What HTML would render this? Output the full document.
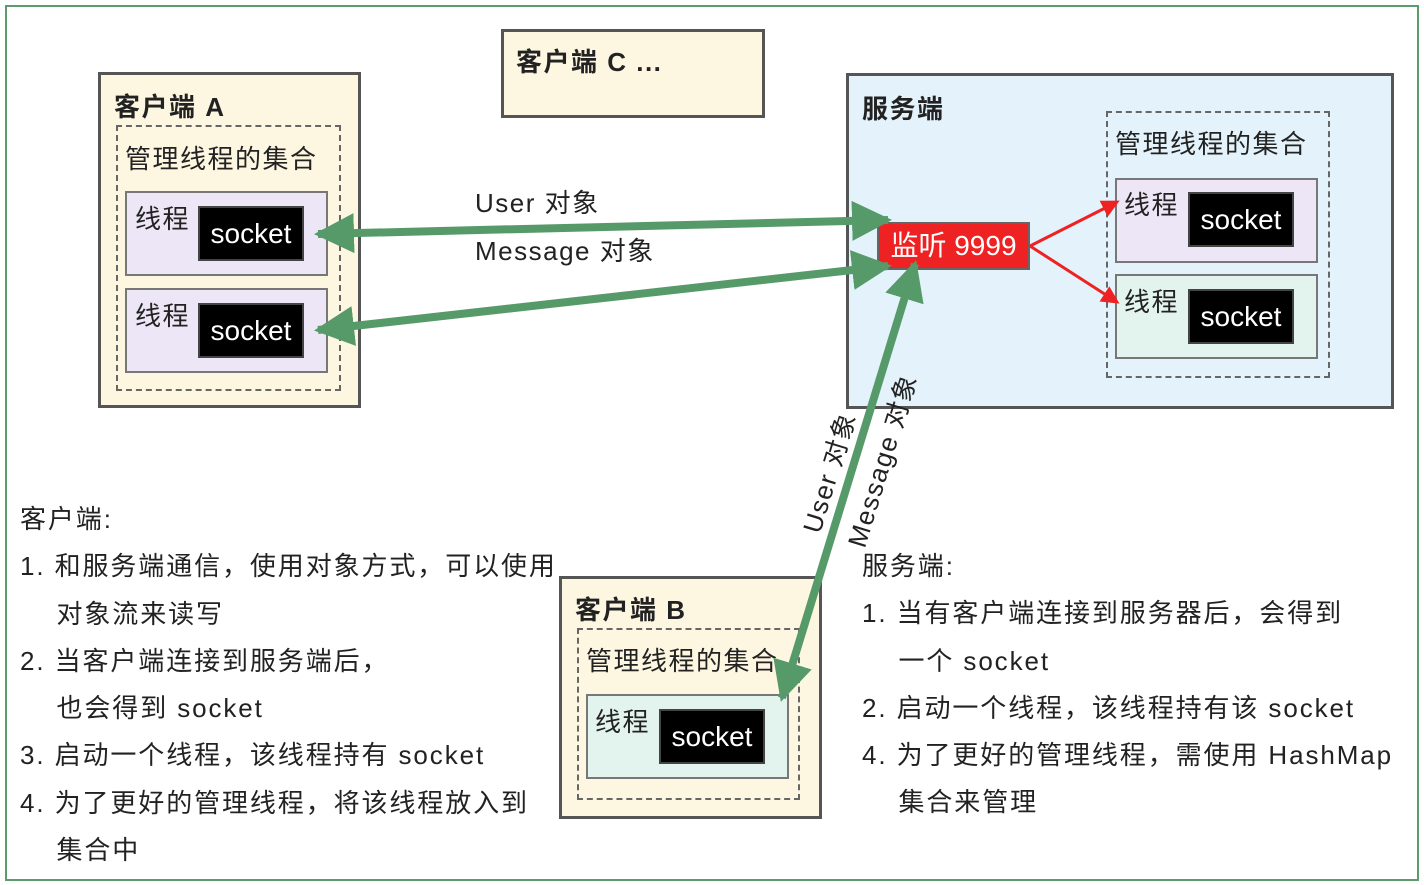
<!DOCTYPE html>
<html><head><meta charset="utf-8"><style>
body{margin:0;width:1424px;height:885px;background:#fff;position:relative;overflow:hidden;font-family:"Liberation Sans","Noto Sans CJK SC",sans-serif;color:#222}
.a{position:absolute;box-sizing:border-box}
.box{border:3px solid #555;background:#fdf6e1}
.dash{border:2px dashed #666}
.t{position:absolute;white-space:nowrap;font-size:26px;letter-spacing:1.5px}
.b{font-weight:bold}
.sock{position:absolute;background:#000;color:#fff;font-size:28px;text-align:center;box-sizing:border-box;border:2px solid #444}
.thr{border:2px solid #777;background:#ede6f6}
.thr2{border:2px solid #777;background:#e3f4ef}
</style></head><body>
<div class="a" style="left:5px;top:5px;width:1414px;height:876px;border:2px solid #5d9a6c"></div>

<div class="a box" style="left:501px;top:29px;width:264px;height:89px"></div>
<div class="t b" style="left:516px;top:42px">客户端 C ...</div>

<div class="a box" style="left:98px;top:72px;width:263px;height:336px"></div>
<div class="t b" style="left:114px;top:87px">客户端 A</div>
<div class="a dash" style="left:116px;top:125px;width:225px;height:266px"></div>
<div class="t" style="left:125px;top:139px">管理线程的集合</div>
<div class="a thr" style="left:125px;top:191px;width:203px;height:85px"></div>
<div class="t" style="left:135px;top:199px">线程</div>
<div class="sock" style="left:198px;top:206px;width:106px;height:55px;line-height:52px">socket</div>
<div class="a thr" style="left:125px;top:288px;width:203px;height:85px"></div>
<div class="t" style="left:135px;top:296px">线程</div>
<div class="sock" style="left:198px;top:303px;width:106px;height:55px;line-height:52px">socket</div>

<div class="a" style="left:846px;top:73px;width:548px;height:336px;border:3px solid #555;background:#e3f2fb"></div>
<div class="t b" style="left:862px;top:89px">服务端</div>
<div class="a dash" style="left:1106px;top:111px;width:224px;height:267px"></div>
<div class="t" style="left:1115px;top:124px">管理线程的集合</div>
<div class="a thr" style="left:1115px;top:178px;width:203px;height:85px"></div>
<div class="t" style="left:1124px;top:185px">线程</div>
<div class="sock" style="left:1188px;top:192px;width:106px;height:55px;line-height:52px">socket</div>
<div class="a thr2" style="left:1115px;top:274px;width:203px;height:85px"></div>
<div class="t" style="left:1124px;top:282px">线程</div>
<div class="sock" style="left:1188px;top:289px;width:106px;height:55px;line-height:52px">socket</div>
<div class="a" style="left:877px;top:222px;width:153px;height:48px;background:#ee2222;border:2px solid #666;color:#fff;font-size:28px;text-align:center;line-height:44px">监听 9999</div>

<div class="a box" style="left:559px;top:576px;width:263px;height:243px"></div>
<div class="t b" style="left:575px;top:590px">客户端 B</div>
<div class="a dash" style="left:577px;top:628px;width:223px;height:172px"></div>
<div class="t" style="left:586px;top:641px">管理线程的集合</div>
<div class="a thr2" style="left:586px;top:694px;width:203px;height:85px"></div>
<div class="t" style="left:595px;top:702px">线程</div>
<div class="sock" style="left:659px;top:709px;width:106px;height:55px;line-height:52px">socket</div>

<svg class="a" style="left:0;top:0" width="1424" height="885">
<defs>
<marker id="g" markerWidth="5" markerHeight="5" refX="4.5" refY="2.5" orient="auto-start-reverse" markerUnits="strokeWidth"><path d="M0,0 L5,2.5 L0,5 z" fill="#579a6a"/></marker>
<marker id="r" markerWidth="6" markerHeight="6" refX="5" refY="3" orient="auto" markerUnits="strokeWidth"><path d="M0,0 L6,3 L0,6 z" fill="#ee2222"/></marker>
</defs>
<g stroke="#579a6a" stroke-width="8" fill="none">
<line x1="318" y1="234" x2="888" y2="220" marker-start="url(#g)" marker-end="url(#g)"/>
<line x1="318" y1="330" x2="888" y2="266" marker-start="url(#g)" marker-end="url(#g)"/>
<line x1="915" y1="264" x2="782" y2="698" marker-start="url(#g)" marker-end="url(#g)"/>
</g>
<g stroke="#ee2222" stroke-width="3">
<line x1="1030" y1="246" x2="1117" y2="202" marker-end="url(#r)"/>
<line x1="1030" y1="246" x2="1117" y2="302" marker-end="url(#r)"/>
</g>
</svg>

<div class="t" style="left:475px;top:183px">User 对象</div>
<div class="t" style="left:475px;top:231px">Message 对象</div>
<div class="t" style="left:828px;top:472px;transform:translate(-50%,-50%) rotate(-73deg)">User 对象</div>
<div class="t" style="left:881px;top:460px;transform:translate(-50%,-50%) rotate(-73deg)">Message 对象</div>

<div class="t" style="left:20px;top:496px;line-height:47.3px;letter-spacing:1.9px">客户端:<br>1. 和服务端通信，使用对象方式，可以使用<br>&nbsp;&nbsp;&nbsp;&nbsp;对象流来读写<br>2. 当客户端连接到服务端后，<br>&nbsp;&nbsp;&nbsp;&nbsp;也会得到 socket<br>3. 启动一个线程，该线程持有 socket<br>4. 为了更好的管理线程，将该线程放入到<br>&nbsp;&nbsp;&nbsp;&nbsp;集合中</div>
<div class="t" style="left:862px;top:543px;line-height:47.3px;letter-spacing:1.9px">服务端:<br>1. 当有客户端连接到服务器后，会得到<br>&nbsp;&nbsp;&nbsp;&nbsp;一个 socket<br>2. 启动一个线程，该线程持有该 socket<br>4. 为了更好的管理线程，需使用 HashMap<br>&nbsp;&nbsp;&nbsp;&nbsp;集合来管理</div>
</body></html>
